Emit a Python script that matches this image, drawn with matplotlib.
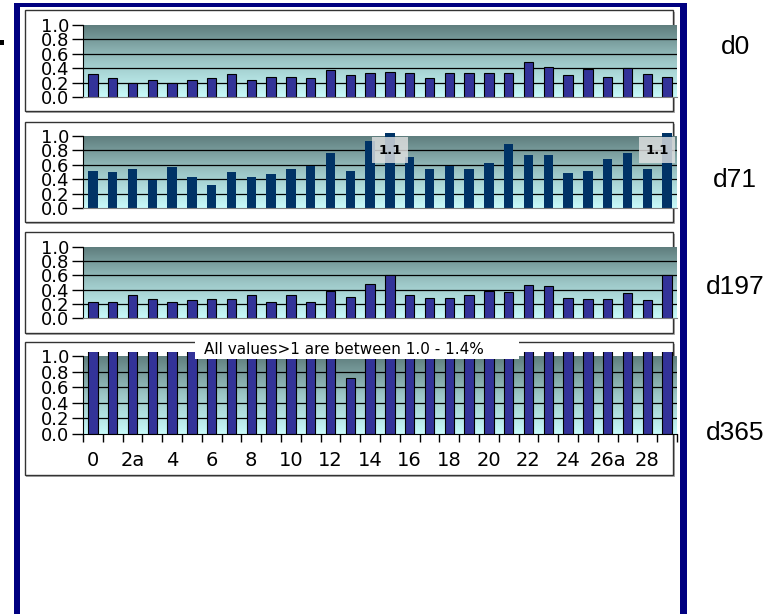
import numpy as np
import matplotlib
matplotlib.use("Agg")
import matplotlib.pyplot as plt
from matplotlib.patches import Rectangle
from matplotlib.colors import LinearSegmentedColormap

W, H = 780, 614

categories = ["0", "1", "2a", "3", "4", "5", "6", "7", "8", "9",
              "10", "11", "12", "13", "14", "15", "16", "17", "18", "19",
              "20", "21", "22", "23", "24", "25", "26a", "27", "28", "29"]

d0 = [0.32, 0.27, 0.19, 0.23, 0.19, 0.23, 0.27, 0.32, 0.23, 0.28,
      0.28, 0.27, 0.37, 0.30, 0.33, 0.35, 0.33, 0.27, 0.33, 0.33,
      0.33, 0.33, 0.48, 0.41, 0.30, 0.39, 0.28, 0.40, 0.32, 0.28]
d71 = [0.51, 0.50, 0.54, 0.39, 0.57, 0.43, 0.32, 0.50, 0.43, 0.47,
       0.54, 0.58, 0.76, 0.51, 0.93, 1.1, 0.71, 0.54, 0.58, 0.54,
       0.62, 0.89, 0.73, 0.73, 0.48, 0.51, 0.68, 0.76, 0.54, 1.1]
d197 = [0.22, 0.23, 0.32, 0.27, 0.23, 0.25, 0.27, 0.27, 0.33, 0.23,
        0.32, 0.23, 0.38, 0.30, 0.48, 0.61, 0.32, 0.28, 0.28, 0.32,
        0.38, 0.36, 0.47, 0.45, 0.28, 0.27, 0.27, 0.35, 0.25, 0.61]
d365 = [1.2, 1.2, 1.2, 1.2, 1.2, 1.2, 1.2, 1.2, 1.2, 1.2,
        1.2, 1.2, 1.2, 0.72, 1.2, 1.2, 1.2, 1.2, 1.2, 1.2,
        1.2, 1.2, 1.2, 1.2, 1.2, 1.2, 1.2, 1.2, 1.2, 1.2]

day_labels = ["d0", "d71", "d197", "d365"]
y_ticks = [0.0, 0.2, 0.4, 0.6, 0.8, 1.0]
note = "All values>1 are between 1.0 - 1.4%"

grad = LinearSegmentedColormap.from_list("bg", ["#c8fafa", "#9cc6c6", "#5f7e7e"])


def fig_box(x0, y0, x1, y1):
    return [x0 / W, 1 - y1 / H, (x1 - x0) / W, (y1 - y0) / H]


def add_rect(fig, x0, y0, x1, y1, **kw):
    r = Rectangle((x0 / W, 1 - y1 / H), (x1 - x0) / W, (y1 - y0) / H,
                  transform=fig.transFigure, **kw)
    fig.add_artist(r)
    return r


fig = plt.figure(figsize=(W / 100, H / 100), dpi=100)

# panel box (y0, y1), plot area (y0, y1), label y, bar style
panels = [
    (d0, (10, 111), (25, 97), 47, dict(color="#333399", edgecolor="black", linewidth=0.8)),
    (d71, (122, 222), (136, 208), 180, dict(color="#003366", edgecolor="none", linewidth=0)),
    (d197, (232, 333), (247, 318), 287, dict(color="#333399", edgecolor="black", linewidth=0.8)),
    (d365, (342, 475), (356, 434), 433, dict(color="#333399", edgecolor="black", linewidth=0.8)),
]

x = np.arange(len(categories))

for k, (vals, box, plot, label_y, style) in enumerate(panels):
    # panel frame with a light shadow
    add_rect(fig, 26, box[0] + 1.5, 674.5, box[1] + 1.5, facecolor="#b0b0b0",
             edgecolor="none", zorder=-3)
    add_rect(fig, 25, box[0], 673, box[1], facecolor="white",
             edgecolor="#333333", linewidth=1.0, zorder=-2)

    ax = fig.add_axes(fig_box(83, plot[0], 677, plot[1]))
    ax.patch.set_visible(False)
    ax.imshow(np.linspace(1, 0, 256).reshape(-1, 1), extent=[-0.5, 29.5, 0, 1],
              aspect="auto", cmap=grad, zorder=0)
    ax.set_xlim(-0.5, 29.5)
    ax.set_ylim(0, 1)
    for yv in y_ticks[1:-1]:
        ax.axhline(yv, color="black", linewidth=0.9, zorder=1)

    bars = ax.bar(x, vals, width=0.47, zorder=2, **style)
    clip = Rectangle((0, 0), 1, 1.045, transform=ax.transAxes)
    for b in bars:
        b.set_clip_path(clip)

    ax.set_yticks(y_ticks)
    ax.set_yticklabels([f"{t:.1f}" for t in y_ticks])
    ax.tick_params(axis="y", direction="out", length=8, width=1, pad=2, labelsize=13)
    for s in ["top", "right"]:
        ax.spines[s].set_visible(False)
    ax.spines["left"].set_color("black")

    if k == 3:
        ax.set_xticks(x[::2])
        ax.set_xticklabels(categories[::2])
        ax.set_xticks(np.arange(-0.5, 30, 1), minor=True)
        ax.tick_params(axis="x", which="major", length=0, pad=12, labelsize=14)
        ax.tick_params(axis="x", which="minor", length=6, width=1, direction="out")
        ax.spines["bottom"].set_color("black")
    else:
        ax.set_xticks([])
        ax.spines["bottom"].set_color("#808080")

    if k == 1:
        for i, v in enumerate(vals):
            if v > 1:
                ax.text(min(i, 28.5), 0.8, f"{v:.1f}", ha="center", va="center",
                        fontsize=9.5, fontweight="bold", zorder=3,
                        bbox=dict(facecolor="#e4e4e4", alpha=0.8, edgecolor="none",
                                  boxstyle="square,pad=0.5"))

    fig.text(735 / W, 1 - label_y / H, day_labels[k], ha="center", va="center",
             fontsize=19, family="Liberation Sans")

# note over the last panel
add_rect(fig, 195, 339, 519, 359, facecolor="white", edgecolor="none", zorder=10)
fig.text(344 / W, 1 - 350 / H, note, ha="center", va="center", fontsize=11, zorder=11)

# navy outer frame
navy = "#000080"
add_rect(fig, 14, 3, 20, 614, facecolor=navy, edgecolor="none", zorder=12)
add_rect(fig, 680, 3, 687, 614, facecolor=navy, edgecolor="none", zorder=12)
add_rect(fig, 14, 3, 687, 7, facecolor=navy, edgecolor="none", zorder=12)
add_rect(fig, 0, 40, 4, 45, facecolor="black", edgecolor="none", zorder=12)

fig.savefig("out.png", dpi=100)
